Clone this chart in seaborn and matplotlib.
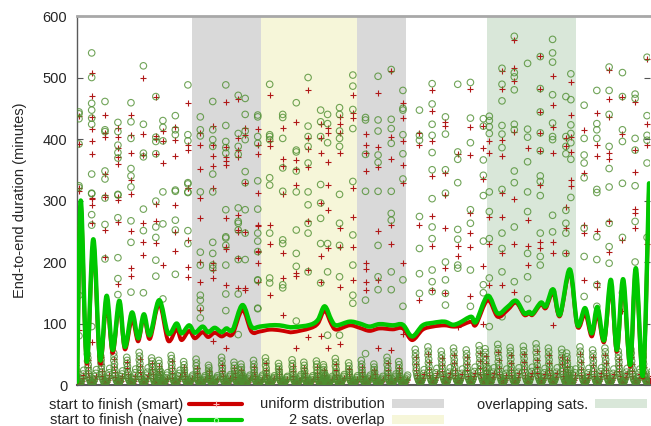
import pandas as pd
import matplotlib
matplotlib.use('Agg')
import matplotlib.pyplot as plt
import seaborn as sns
from matplotlib.path import Path
from matplotlib.patches import PathPatch, Patch
from matplotlib.lines import Line2D

# --- data ------------------------------------------------------------------
# experiment columns (x) and the per-task durations (minutes)
col_x = [0.0, 1.02, 2.09, 3.13, 4.18, 5.18, 6.18, 6.75, 7.75, 8.76, 9.76, 10.76,
         11.81, 12.81, 13.37, 14.38, 15.34, 16.39, 17.48, 18.43, 19.44, 20.0, 20.96,
         22.03, 23.05, 24.06, 25.12, 26.06, 27.39, 28.41, 29.48, 30.47, 31.49, 32.53,
         33.01, 34.03, 35.02, 36.09, 37.11, 38.1, 39.17, 39.57, 40.64, 41.66, 42.65,
         43.72, 44.74, 45.7]

naive_high = [
    [444, 441, 433, 392, 324, 321, 255, 146, 80],
    [540, 500, 458, 447, 434, 424, 343, 312, 311, 277, 260, 95],
    [461, 415, 412, 348, 335, 304, 261, 205],
    [427, 412, 390, 378, 369, 310, 309, 272, 207, 173, 147],
    [459, 428, 401, 352, 340, 322, 267, 232, 151],
    [519, 424, 377, 371, 286, 251, 150],
    [469, 403, 396, 376, 299, 257, 240, 203, 177],
    [430, 419, 397, 314, 262, 140],
    [438, 415, 407, 315, 317, 268, 252, 180],
    [488, 407, 397, 327, 314, 329, 313, 251, 230],
    [436, 415, 405, 314, 216, 195, 146, 138, 125, 109],
    [461, 415, 399, 388, 343, 314, 232, 214, 195, 190],
    [488, 422, 396, 386, 377, 285, 241, 239, 227, 195, 148, 121],
    [471, 409, 388, 375, 288, 266, 263, 252, 204, 148, 82],
    [466, 440, 413, 399, 347, 329, 285, 247, 204],
    [439, 436, 404, 393, 332, 286, 247, 234, 217, 171, 170, 125, 124],
    [489, 407, 404, 399, 337, 325, 247, 174, 166],
    [440, 435, 401, 353, 315, 236, 230, 163, 158],
    [459, 382, 379, 348, 314, 252, 214, 193, 104],
    [500, 421, 404, 388, 361, 314, 293, 263, 247, 184],
    [447, 428, 404, 326, 296, 271, 230, 166],
    [440, 425, 394, 230, 184, 81],
    [451, 440, 413, 401, 388, 310, 263, 227, 176, 81],
    [504, 486, 448, 417, 331, 244, 195, 146, 133],
    [435, 431, 375, 315, 138, 51],
    [502, 431, 413, 374, 362, 315, 227, 176, 155],
    [513, 432, 417, 393, 315, 279, 268, 184, 155],
    [479, 450, 447, 407, 376, 335, 171, 128],
    [447, 406, 398, 274, 222, 181, 149],
    [490, 457, 424, 406, 378, 350, 303, 257, 238, 187, 168, 152],
    [436, 408, 350, 312, 200, 171, 149, 130],
    [489, 379, 367, 329, 253, 237, 195, 190],
    [492, 434, 394, 285, 263, 187, 128],
    [433, 421, 366, 341, 308, 234, 163, 150],
    [437, 430, 420, 409, 314, 282, 238, 174, 95],
    [515, 489, 462, 422, 408, 386, 318, 247, 222, 184, 111],
    [567, 508, 501, 480, 424, 415, 348, 329, 257, 168],
    [523, 416, 403, 363, 314, 282, 214, 176, 140],
    [534, 482, 444, 410, 381, 340, 331, 308, 247, 209, 195],
    [562, 540, 525, 472, 426, 404, 399, 276, 249, 152],
    [469, 404, 388, 376, 284, 263, 247, 214],
    [506, 464, 423, 409, 394, 367, 305],
    [455, 401, 374, 361, 337, 255, 209, 144],
    [479, 425, 415, 401, 318, 313, 241, 204, 163, 128],
    [517, 479, 440, 388, 352, 322, 263, 225, 198],
    [508, 469, 415, 396, 328, 240, 150],
    [473, 466, 401, 382, 324, 266, 200],
    [533, 438, 406, 398, 361, 240],
]

smart_high = [
    [437, 392, 320, 315, 250, 90],
    [507, 470, 436, 417, 397, 375, 302, 304, 293, 263, 70],
    [439, 409, 404, 343, 305, 309, 252, 208, 110],
    [418, 404, 385, 371, 360, 305, 301, 265, 165],
    [439, 407, 378, 333, 311, 250, 191, 178],
    [500, 408, 374, 263, 232, 211],
    [469, 405, 400, 376, 294, 267, 231],
    [413, 396, 361, 195],
    [419, 398, 373, 293, 248, 218],
    [458, 390, 382, 320, 320, 235, 192, 176],
    [409, 390, 352, 304, 272, 200, 168, 122],
    [421, 390, 373, 356, 321, 198, 187, 174, 72],
    [460, 387, 370, 364, 358, 271, 225, 221, 163, 61],
    [465, 401, 382, 371, 276, 252, 248, 207, 158],
    [418, 406, 329, 248, 157, 155],
    [417, 390, 375, 313, 260, 258, 218, 217, 199, 168],
    [472, 396, 389, 260, 230, 146],
    [418, 368, 356, 310, 214, 174, 114],
    [427, 366, 351, 325, 182, 178, 61],
    [480, 401, 383, 355, 266, 187, 78],
    [424, 402, 377, 296, 209, 168, 80],
    [418, 409, 362, 325, 285, 222, 60],
    [436, 424, 409, 377, 255, 225, 160, 67],
    [472, 442, 434, 321, 274, 225, 171],
    [408, 390, 378, 348, 198, 189, 168, 155],
    [475, 387, 355, 250, 171, 61],
    [510, 404, 368, 260, 230, 57],
    [458, 434, 396, 357, 328, 198, 83],
    [410, 390, 260, 138],
    [480, 445, 396, 340, 275, 226, 155],
    [428, 421, 344, 309, 255, 190, 149],
    [375, 226, 209, 95],
    [482, 420, 374, 279, 247, 225, 144],
    [421, 385, 335, 193, 100],
    [397, 377, 274, 230, 163],
    [510, 482, 399, 373, 313, 274, 214, 163],
    [561, 515, 494, 412, 303, 230, 152],
    [386, 268, 226, 195],
    [535, 482, 444, 410, 381, 325, 233, 222],
    [502, 455, 419, 378, 233, 214, 98],
    [401, 388, 290, 255, 214],
    [492, 439, 404, 379, 334, 324],
    [415, 344, 260, 247, 171],
    [443, 390, 373, 250, 166, 160],
    [512, 465, 436, 377, 367, 266, 217],
    [469, 408, 235, 120],
    [461, 382, 347, 287, 279, 255],
    [530, 424, 390, 230],
]

# short tasks piled up near zero, with their small offsets inside each column
low_dx_naive = [-0.34, -0.31, -0.33, -0.28, -0.3, -0.25, -0.27, -0.22,
                -0.18, -0.13, -0.08, -0.03, 0.02, 0.07, 0.12, 0.17, 0.22, 0.28, 0.33, 0.38]
low_dx_smart = [-0.3, -0.28, -0.26, -0.23, -0.18, -0.1, -0.02, 0.06, 0.14, 0.22, 0.3, 0.36]

naive_low = [
    [54, 48, 42, 36, 30, 25, 20, 15, 11, 8, 6, 4, 3, 3, 4, 6, 9, 13, 18, 24],
    [50, 44, 39, 33, 28, 23, 18, 14, 10, 7, 5, 4, 3, 4, 5, 7, 10, 14, 19, 25],
    [47, 41, 36, 31, 26, 21, 17, 13, 10, 7, 5, 3, 3, 4, 6, 8, 11, 15, 20, 27],
    [52, 46, 40, 34, 29, 24, 19, 15, 11, 8, 6, 4, 3, 3, 5, 7, 10, 14, 18, 23],
    [45, 40, 35, 30, 25, 20, 16, 12, 9, 7, 5, 4, 3, 4, 5, 8, 11, 15, 20, 26],
    [53, 47, 41, 35, 29, 24, 19, 14, 10, 8, 6, 4, 3, 4, 6, 8, 12, 16, 21, 28],
    [44, 39, 34, 29, 24, 20, 16, 12, 9, 6, 5, 3, 3, 4, 5, 7, 10, 13, 17, 22],
    [40, 35, 30, 25, 21, 17, 13, 10, 8, 6, 4, 3, 3, 4, 5, 7, 9, 12, 16, 20],
    [48, 43, 37, 32, 27, 22, 17, 13, 10, 7, 5, 4, 3, 4, 6, 8, 11, 15, 19, 24],
    [38, 33, 28, 24, 20, 16, 13, 10, 8, 6, 4, 3, 3, 3, 4, 6, 8, 10, 13, 16],
    [42, 36, 31, 26, 21, 17, 13, 10, 8, 6, 4, 3, 2, 3, 4, 5, 7, 9, 12, 15],
    [32, 28, 24, 20, 17, 14, 11, 9, 7, 5, 4, 3, 3, 3, 4, 6, 8, 10, 12, 15],
    [45, 39, 33, 28, 23, 18, 14, 11, 8, 6, 5, 4, 3, 3, 4, 6, 8, 11, 14, 17],
    [37, 32, 27, 23, 19, 15, 12, 10, 8, 6, 4, 3, 3, 3, 4, 5, 7, 9, 12, 15],
    [34, 29, 25, 21, 17, 14, 11, 9, 7, 5, 4, 3, 3, 3, 4, 6, 8, 10, 13, 16],
    [40, 34, 29, 25, 20, 16, 13, 10, 8, 6, 4, 3, 2, 3, 4, 5, 7, 10, 13, 16],
    [44, 38, 32, 27, 22, 18, 14, 11, 8, 6, 5, 4, 3, 3, 4, 6, 8, 10, 12, 15],
    [35, 30, 26, 22, 18, 15, 12, 9, 7, 5, 4, 3, 3, 3, 4, 5, 7, 9, 12, 14],
    [41, 35, 30, 25, 21, 17, 13, 10, 8, 6, 4, 3, 3, 3, 4, 6, 8, 11, 14, 17],
    [37, 32, 27, 23, 19, 15, 12, 9, 7, 5, 4, 3, 2, 3, 4, 5, 7, 9, 12, 15],
    [39, 34, 29, 24, 20, 16, 13, 10, 8, 6, 4, 3, 3, 3, 4, 6, 8, 10, 13, 16],
    [33, 29, 25, 21, 17, 14, 11, 9, 7, 5, 4, 3, 3, 3, 4, 5, 7, 9, 11, 14],
    [43, 37, 31, 26, 21, 17, 13, 10, 8, 6, 4, 3, 3, 3, 4, 6, 8, 11, 14, 17],
    [36, 31, 26, 22, 18, 15, 12, 9, 7, 5, 4, 3, 3, 3, 4, 5, 7, 9, 12, 15],
    [40, 34, 29, 24, 20, 16, 13, 10, 8, 6, 5, 4, 3, 3, 4, 6, 8, 10, 13, 16],
    [34, 29, 25, 21, 17, 14, 11, 9, 7, 5, 4, 3, 3, 3, 4, 5, 7, 9, 11, 14],
    [45, 39, 33, 27, 22, 18, 14, 11, 8, 6, 4, 3, 3, 3, 4, 6, 8, 11, 14, 18],
    [38, 33, 28, 23, 19, 15, 12, 10, 8, 6, 4, 3, 3, 3, 4, 6, 8, 10, 13, 16],
    [58, 52, 46, 40, 34, 28, 23, 18, 14, 11, 8, 6, 5, 4, 5, 7, 10, 14, 19, 25],
    [62, 55, 49, 42, 36, 30, 24, 19, 15, 11, 8, 6, 4, 4, 5, 7, 10, 14, 20, 27],
    [55, 49, 43, 37, 31, 26, 21, 16, 13, 10, 7, 5, 4, 4, 5, 8, 11, 15, 21, 28],
    [60, 54, 47, 41, 35, 29, 23, 18, 14, 11, 8, 6, 5, 4, 5, 7, 10, 14, 19, 26],
    [57, 51, 45, 39, 33, 27, 22, 17, 13, 10, 7, 5, 4, 4, 6, 8, 11, 16, 22, 29],
    [64, 57, 50, 44, 37, 31, 25, 20, 15, 12, 9, 6, 5, 4, 5, 7, 10, 14, 20, 27],
    [59, 53, 46, 40, 34, 28, 23, 18, 14, 10, 8, 6, 4, 4, 5, 8, 11, 15, 21, 28],
    [66, 59, 52, 45, 38, 32, 26, 20, 16, 12, 9, 6, 5, 4, 5, 7, 10, 14, 19, 26],
    [61, 55, 48, 42, 35, 29, 24, 19, 15, 11, 8, 6, 5, 4, 5, 7, 10, 15, 21, 28],
    [63, 56, 49, 43, 36, 30, 25, 20, 15, 11, 8, 6, 4, 4, 5, 8, 11, 16, 22, 29],
    [67, 60, 53, 46, 39, 32, 26, 21, 16, 12, 9, 6, 5, 4, 5, 7, 10, 14, 20, 27],
    [60, 54, 47, 41, 35, 29, 23, 18, 14, 11, 8, 6, 4, 4, 6, 8, 11, 15, 21, 28],
    [58, 52, 45, 39, 33, 27, 22, 17, 13, 10, 7, 5, 4, 4, 5, 7, 10, 14, 19, 25],
    [52, 46, 41, 35, 30, 25, 20, 16, 12, 9, 7, 5, 4, 4, 5, 8, 11, 15, 20, 26],
    [62, 55, 49, 42, 36, 30, 24, 19, 15, 11, 8, 6, 5, 4, 5, 7, 10, 14, 20, 27],
    [57, 51, 45, 39, 33, 27, 22, 17, 13, 10, 7, 5, 4, 4, 6, 8, 11, 16, 22, 28],
    [60, 54, 47, 41, 35, 29, 23, 18, 14, 11, 8, 6, 4, 4, 5, 7, 10, 14, 19, 26],
    [55, 49, 43, 37, 31, 26, 21, 16, 13, 10, 7, 5, 4, 4, 5, 8, 11, 15, 21, 27],
    [58, 52, 45, 39, 33, 28, 22, 18, 14, 10, 8, 6, 4, 4, 5, 7, 10, 14, 20, 26],
    [50, 45, 39, 34, 29, 24, 19, 15, 12, 9, 7, 5, 4, 4, 5, 7, 10, 13, 17, 22],
]

smart_low = [
    [44, 32, 22, 14, 9, 6, 4, 3, 4, 7, 11, 16],
    [40, 29, 20, 13, 8, 5, 4, 3, 4, 6, 10, 15],
    [46, 34, 23, 15, 9, 6, 4, 3, 5, 8, 12, 17],
    [42, 30, 21, 13, 8, 6, 4, 4, 5, 7, 11, 15],
    [37, 27, 18, 12, 8, 5, 3, 3, 4, 7, 10, 14],
    [43, 31, 21, 14, 9, 6, 4, 3, 4, 7, 11, 16],
    [36, 26, 18, 11, 7, 5, 3, 3, 4, 6, 9, 13],
    [31, 23, 16, 10, 7, 5, 3, 3, 4, 6, 9, 12],
    [39, 28, 19, 12, 8, 5, 4, 3, 4, 7, 10, 14],
    [30, 21, 14, 9, 6, 4, 3, 3, 4, 6, 8, 11],
    [27, 19, 13, 8, 6, 4, 3, 2, 3, 5, 7, 10],
    [23, 17, 12, 8, 5, 4, 3, 3, 4, 5, 7, 10],
    [33, 23, 15, 10, 6, 4, 3, 3, 4, 6, 8, 11],
    [28, 20, 13, 9, 6, 4, 3, 3, 3, 5, 7, 10],
    [24, 17, 12, 8, 5, 4, 3, 3, 4, 5, 8, 11],
    [30, 21, 14, 9, 6, 4, 3, 2, 3, 5, 7, 10],
    [35, 24, 16, 10, 7, 5, 3, 3, 4, 5, 8, 11],
    [26, 18, 12, 8, 5, 4, 3, 3, 3, 5, 7, 9],
    [31, 22, 14, 9, 6, 4, 3, 3, 4, 6, 8, 11],
    [27, 19, 13, 8, 6, 4, 3, 2, 3, 5, 7, 10],
    [29, 20, 13, 9, 6, 4, 3, 3, 4, 5, 8, 11],
    [24, 17, 11, 7, 5, 4, 3, 3, 3, 5, 7, 9],
    [34, 24, 16, 10, 6, 4, 3, 3, 4, 6, 8, 11],
    [26, 18, 12, 8, 5, 4, 3, 3, 3, 5, 7, 10],
    [30, 21, 14, 9, 6, 4, 3, 3, 4, 5, 8, 11],
    [25, 18, 12, 8, 5, 4, 3, 3, 3, 5, 7, 9],
    [35, 25, 16, 10, 7, 5, 3, 3, 4, 6, 8, 11],
    [28, 20, 13, 9, 6, 4, 3, 3, 4, 5, 8, 10],
    [46, 34, 24, 16, 11, 7, 5, 4, 5, 8, 12, 18],
    [50, 37, 26, 17, 11, 7, 5, 4, 5, 8, 13, 19],
    [44, 33, 23, 15, 10, 7, 5, 4, 5, 9, 13, 19],
    [48, 36, 25, 16, 11, 7, 5, 4, 5, 8, 12, 18],
    [46, 34, 24, 15, 10, 7, 5, 4, 6, 9, 14, 20],
    [52, 39, 27, 18, 12, 8, 5, 4, 5, 8, 12, 18],
    [47, 35, 24, 16, 11, 7, 5, 4, 5, 9, 13, 19],
    [54, 40, 28, 18, 12, 8, 5, 4, 5, 8, 12, 17],
    [49, 36, 25, 16, 11, 7, 5, 4, 5, 8, 13, 19],
    [51, 38, 26, 17, 11, 7, 5, 4, 5, 9, 14, 20],
    [55, 41, 29, 19, 12, 8, 5, 4, 5, 8, 12, 18],
    [48, 36, 25, 16, 11, 7, 5, 4, 6, 9, 13, 19],
    [46, 34, 23, 15, 10, 7, 5, 4, 5, 8, 12, 17],
    [41, 30, 21, 14, 9, 6, 4, 4, 5, 8, 12, 17],
    [50, 37, 26, 17, 11, 7, 5, 4, 5, 8, 12, 18],
    [45, 33, 23, 15, 10, 7, 5, 4, 6, 9, 14, 20],
    [48, 36, 25, 16, 11, 7, 5, 4, 5, 8, 12, 18],
    [43, 32, 22, 15, 10, 7, 5, 4, 5, 9, 13, 19],
    [46, 34, 23, 15, 10, 7, 5, 4, 5, 8, 12, 18],
    [39, 29, 20, 13, 9, 6, 4, 4, 5, 7, 11, 15],
]

# smoothed average curves (peaks and troughs)
line_x = [-0.15, 0.14, 0.62, 1.15, 1.69, 2.22, 2.71, 3.24, 3.69, 4.26, 4.76, 5.22, 5.70,
          6.45, 7.17, 7.85, 8.25, 8.86, 9.32, 9.94, 10.39, 10.92, 11.46, 11.86, 12.37,
          13.15, 13.87, 14.54, 15.34, 16.14, 16.68, 17.21, 18.55, 19.22, 19.76, 20.30,
          20.70, 21.77, 22.57, 23.37, 24.18, 25.24, 26.05, 26.80, 27.65, 28.46, 29.40,
          30.06, 30.60, 31.54, 31.94, 32.88, 33.68, 34.48, 35.16, 35.82, 36.22, 36.49,
          37.16, 37.56, 38.15, 38.69, 39.49, 40.10, 40.72, 41.25, 41.71, 42.25, 42.79,
          43.27, 43.78, 44.34, 44.80, 45.38, 45.86]
naive_line = [5, 300, 38, 237, 41, 145, 57, 137, 62, 118, 76, 115, 81, 138, 84, 100, 84,
              97, 85, 95, 86, 93, 86, 92, 90, 130, 95, 95, 97, 97, 95, 94, 97.6, 106, 128,
              106, 97, 103, 100, 95, 99, 97, 98, 79, 97, 101, 103, 98, 101, 111, 103, 145,
              116.5, 127, 137, 116.5, 119, 116, 134, 128, 155.5, 114, 188, 97.5, 125, 84,
              127, 73, 171, 57, 172, 32.5, 190, 16, 328]
smart_line = [4, 292, 35, 228, 36, 135, 52, 130, 58, 107, 71, 111, 75, 132, 72, 91, 73,
              88, 76, 86, 78, 85, 79, 83, 83, 122, 87, 87, 90, 89, 87, 86, 92, 100, 121,
              99, 90, 97, 93, 88, 92, 90.5, 92, 73, 90, 95, 97, 95, 96, 103, 98, 138, 111,
              122, 134, 114, 117, 114, 131, 125, 150, 112, 184, 95, 116, 79, 116, 70, 160,
              54, 163, 30, 184, 14, 320]

# experiment groups shaded in the background
region_start = [9.1, 14.67, 22.35, 32.83]
region_end = [14.67, 22.35, 26.32, 39.97]
region_label = ['uniform distribution', '2 sats. overlap', 'uniform distribution', 'overlapping sats.']

region_colors = {'uniform distribution': '#d9d9d9',
                 '2 sats. overlap': '#f6f6d9',
                 'overlapping sats.': '#d9e7d9'}
RED = '#cc0000'
GREEN = '#00c800'


def to_frame(highs, lows, dxs):
    rows = []
    for x, hi, lo in zip(col_x, highs, lows):
        rows += [(x, v) for v in hi]
        rows += [(x + dx, v) for dx, v in zip(dxs, lo)]
    return pd.DataFrame(rows, columns=['x', 'minutes'])


def smooth_path(xs, ys):
    # catmull-rom through the read points, drawn as bezier segments
    n = len(xs)
    verts = [(xs[0], ys[0])]
    codes = [Path.MOVETO]
    for i in range(n - 1):
        a = max(i - 1, 0)
        d = min(i + 2, n - 1)
        c1 = (xs[i] + (xs[i + 1] - xs[a]) / 6, ys[i] + (ys[i + 1] - ys[a]) / 6)
        c2 = (xs[i + 1] - (xs[d] - xs[i]) / 6, ys[i + 1] - (ys[d] - ys[i]) / 6)
        verts += [c1, c2, (xs[i + 1], ys[i + 1])]
        codes += [Path.CURVE4] * 3
    return Path(verts, codes)


naive_pts = to_frame(naive_high, naive_low, low_dx_naive)
smart_pts = to_frame(smart_high, smart_low, low_dx_smart)

sns.set_theme(style='white')
plt.rcParams['font.family'] = ['Liberation Sans', 'DejaVu Sans']

fig, ax = plt.subplots(figsize=(6.51, 4.26), dpi=100)
fig.subplots_adjust(left=0.1183, right=0.9985, bottom=0.0962, top=0.9624)

for a, b, lab in zip(region_start, region_end, region_label):
    ax.axvspan(a, b, color=region_colors[lab], lw=0, zorder=0)

sns.scatterplot(data=smart_pts, x='x', y='minutes', marker='+', s=18,
                color='#b01818', linewidth=0.8, ax=ax, zorder=2)
sns.scatterplot(data=naive_pts, x='x', y='minutes', marker='o', s=22,
                facecolor='none', edgecolor='#4e8e30', linewidth=0.8, alpha=0.8,
                ax=ax, zorder=3)

ax.add_patch(PathPatch(smooth_path(line_x, smart_line), fill=False, edgecolor=RED,
                       lw=2.8, capstyle='round', joinstyle='round', zorder=4))
ax.add_patch(PathPatch(smooth_path(line_x, naive_line), fill=False, edgecolor=GREEN,
                       lw=3.2, capstyle='round', joinstyle='round', zorder=5))

ax.set_xlim(-0.16, 45.94)
ax.set_ylim(0, 600)
ax.set_xticks([])
ax.set_yticks(range(0, 601, 100))
ax.set_xlabel('')
ax.set_ylabel('End-to-end duration (minutes)', fontsize=10.5)
ax.yaxis.set_label_coords(-0.087, 0.5)
ax.tick_params(axis='y', direction='in', length=4, width=0.8, color='#555555',
               labelsize=10.5, pad=7, left=True, right=True)

for side in ['left', 'bottom']:
    ax.spines[side].set_color('#5a5a5a')
ax.spines['left'].set_linewidth(1.0)
ax.spines['bottom'].set_linewidth(1.5)
ax.spines['top'].set_color('#a8a8a8')
ax.spines['top'].set_linewidth(2.0)
ax.spines['right'].set_visible(False)

smart_handle = Line2D([], [], color=RED, lw=3, marker='+', markersize=4,
                      markeredgecolor='#ffb0b0', mew=0.8)
naive_handle = Line2D([], [], color=GREEN, lw=3, marker='o', markersize=3,
                      markerfacecolor='none', markeredgecolor='#b0ffb0', mew=0.7)
legend_kw = dict(loc='upper right', frameon=False, markerfirst=False, handlelength=3.6,
                 handleheight=0.55, handletextpad=0.45, columnspacing=1.25,
                 labelspacing=0.13, borderpad=0, borderaxespad=0, numpoints=1,
                 fontsize=10.5)
fig.legend([smart_handle, naive_handle,
            Patch(facecolor=region_colors['uniform distribution'], lw=0),
            Patch(facecolor=region_colors['2 sats. overlap'], lw=0)],
           ['start to finish (smart)', 'start to finish (naive)',
            'uniform distribution', '2 sats. overlap'],
           ncol=2, bbox_to_anchor=(444 / 651, 1 - 397.5 / 426), **legend_kw)
fig.legend([Patch(facecolor=region_colors['overlapping sats.'], lw=0)],
           ['overlapping sats.'], bbox_to_anchor=(647 / 651, 1 - 397.5 / 426), **legend_kw)

fig.savefig('out.png', dpi=100)
